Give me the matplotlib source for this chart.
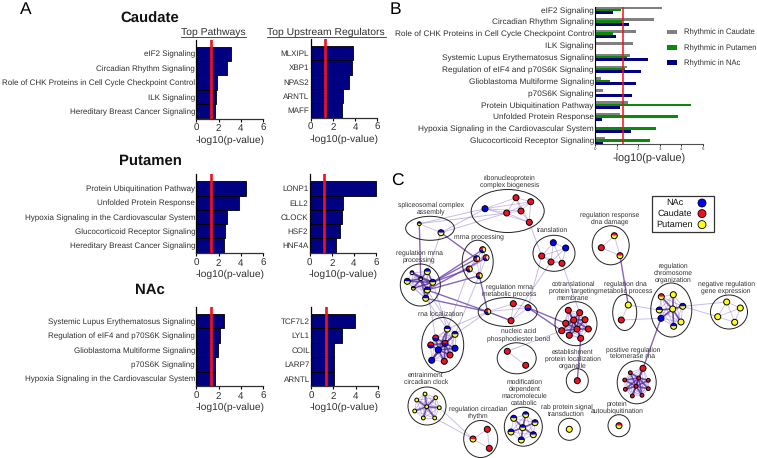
from itertools import combinations
import matplotlib
matplotlib.use('Agg')
from matplotlib import pyplot as plt
from matplotlib.patches import Ellipse, Wedge, Rectangle

plt.rcParams['font.family'] = ['Liberation Sans', 'DejaVu Sans']
plt.rcParams['text.hinting'] = 'no_hinting'

W, H = 757, 458

################## panel A data ##################
caudate_pathways = ['eIF2 Signaling', 'Circadian Rhythm Signaling',
                    'Role of CHK Proteins in Cell Cycle Checkpoint Control',
                    'ILK Signaling', 'Hereditary Breast Cancer Signaling']
caudate_pathway_vals = [3.09, 2.73, 1.89, 1.74, 1.65]
caudate_regs = ['MLXIPL', 'XBP1', 'NPAS2', 'ARNTL', 'MAFF']
caudate_reg_vals = [3.84, 3.75, 3.48, 2.94, 2.85]

putamen_pathways = ['Protein Ubiquitination Pathway', 'Unfolded Protein Response',
                    'Hypoxia Signaling in the Cardiovascular System',
                    'Glucocorticoid Receptor Signaling', 'Hereditary Breast Cancer Signaling']
putamen_pathway_vals = [4.47, 3.81, 2.79, 2.58, 2.49]
putamen_regs = ['LONP1', 'ELL2', 'CLOCK', 'HSF2', 'HNF4A']
putamen_reg_vals = [6.0, 2.97, 2.88, 2.70, 2.37]

nac_pathways = ['Systemic Lupus Erythematosus Signaling', 'Regulation of eIF4 and p70S6K Signaling',
                'Glioblastoma Multiforme Signaling', 'p70S6K Signaling',
                'Hypoxia Signaling in the Cardiovascular System']
nac_pathway_vals = [2.46, 2.10, 1.92, 1.71, 1.65]
nac_regs = ['TCF7L2', 'LYL1', 'COIL', 'LARP7', 'ARNTL']
nac_reg_vals = [3.99, 2.73, 2.04, 2.04, 2.04]

threshold = 1.3

################## panel B data ##################
b_pathways = ['eIF2 Signaling', 'Circadian Rhythm Signaling',
              'Role of CHK Proteins in Cell Cycle Checkpoint Control', 'ILK Signaling',
              'Systemic Lupus Erythematosus Signaling', 'Regulation of eIF4 and p70S6K Signaling',
              'Glioblastoma Multiforme Signaling', 'p70S6K Signaling',
              'Protein Ubiquitination Pathway', 'Unfolded Protein Response',
              'Hypoxia Signaling in the Cardiovascular System', 'Glucocorticoid Receptor Signaling']
b_caudate = [3.08, 2.74, 1.87, 1.73, 1.61, 1.47, 0.26, 0.34, 1.50, 1.16, 0.0, 0.46]
b_putamen = [1.19, 1.25, 0.84, 0.0, 1.46, 1.38, 0.68, 0.0, 4.44, 3.82, 2.80, 2.54]
b_nac = [0.82, 1.55, 0.96, 0.0, 2.45, 2.10, 1.90, 1.72, 1.16, 0.33, 1.64, 0.36]

################## panel C data (layout coordinates of the network) ##################
cluster_x = [430, 507.7, 554, 477.7, 420.3, 507.7, 442.7, 516.7, 427, 480.7, 523.3, 569.3, 619, 577.3,
             576, 624.7, 671.3, 729, 610.7, 636.7]
cluster_y = [228.3, 211, 253.3, 261.7, 285, 312, 345, 358.3, 406, 439, 426.7, 429.3, 425.7, 380.7,
             323.7, 312.5, 310, 312, 245.3, 382.3]
cluster_w = [48.7, 73, 42, 31, 40, 59, 42, 39, 38, 34, 38, 22, 22, 22, 42, 24, 41, 37, 37, 39]
cluster_h = [24, 43, 36, 43, 42, 29, 55, 31, 38, 37, 39, 22, 22, 24, 44, 36, 54, 34, 39, 43]
cluster_sizes = [2, 6, 5, 5, 8, 4, 10, 2, 8, 3, 7, 1, 1, 1, 10, 2, 8, 4, 3, 10]

node_x = [419.3, 441,
          485, 506.7, 516, 530.7, 521, 529.3,
          553.3, 565.7, 541.7, 551, 562,
          482.7, 476.7, 486, 469.3, 479.3,
          412, 427.3, 407.3, 420.7, 432.7, 413.3, 427.3, 425.7,
          487.7, 513.3, 528, 511,
          447.3, 455, 435.7, 430.7, 445, 455, 438.3, 450, 431.7, 444.3,
          507.3, 525.7,
          426.7, 425, 435.7, 416.7, 439.3, 414.7, 423.3, 434.7,
          487.3, 473, 489.3,
          522.7, 513.7, 525.7, 535, 533.3, 521.3, 511,
          569.3, 619, 577.3,
          568.3, 579.7, 565.7, 573.7, 585, 577, 588.3, 561.7, 569.3, 580.7,
          628.3, 621.3,
          661.3, 673.3, 682.7, 659.3, 672.7, 661, 681, 673.7,
          726.7, 740.3, 717.7, 734.7,
          614.3, 601.3, 620,
          643, 630.3, 638.7, 648.3, 624.7, 636, 625.3, 648.3, 632.3, 642]
node_y = [223.7, 232.7,
          208.7, 213, 197.7, 201.7, 211, 222.3,
          242.7, 248, 256, 262, 263.3,
          249.7, 258.7, 257.7, 269, 275.7,
          272.7, 271.7, 281.3, 278.7, 282.3, 288.3, 290, 298.3,
          311.7, 303.7, 307.7, 320.7,
          329, 334.3, 338, 345, 343.3, 348.3, 350, 355, 360.3, 361.3,
          351.3, 365.3,
          406.7, 394, 397.7, 400, 407.7, 411, 418, 418,
          429.3, 439, 448.3,
          427.7, 418.3, 414.7, 422.7, 434.7, 440, 432,
          429.3, 425.7, 380.7,
          310.3, 312.7, 323.3, 320, 319.7, 329, 329, 330.7, 335.3, 338.3,
          305, 320,
          296.7, 294.7, 306.3, 310, 309, 318.3, 322, 326.3,
          302, 308, 316.7, 322.3,
          235.7, 247.7, 255.7,
          368.3, 372.7, 378, 380.3, 380, 386.3, 389.3, 388.7, 396, 395.3]
# first letter is the upper part of the node
node_groups = ['by', 'by',
               'b', 'r', 'r', 'r', 'r', 'r',
               'b', 'b', 'r', 'r', 'r',
               'ryb', 'byr', 'ryb', 'ryb', 'ryb',
               'by', 'by', 'by', 'by', 'by', 'by', 'by', 'by',
               'ryb', 'r', 'rb', 'r',
               'by', 'by', 'rb', 'rb', 'rb', 'b', 'b', 'r', 'b', 'r',
               'r', 'r',
               'y', 'y', 'y', 'y', 'y', 'y', 'y', 'y',
               'r', 'ry', 'r',
               'by', 'by', 'by', 'by', 'by', 'by', 'by',
               'y', 'ry', 'r',
               'r', 'r', 'r', 'r', 'r', 'r', 'r', 'r', 'r', 'r',
               'y', 'r',
               'ry', 'y', 'by', 'by', 'y', 'b', 'y', 'by',
               'y', 'y', 'y', 'y',
               'ry', 'r', 'ry',
               'r', 'r', 'r', 'r', 'r', 'r', 'r', 'r', 'r', 'r']
small_nodes = [0, 18, 21, 23] + list(range(42, 50)) + list(range(91, 100))
hub_nodes = [21, 22, 34, 36, 42, 53, 66, 68, 79, 92, 95]

strong_links = [(0, 21), (1, 14), (14, 22), (16, 22), (15, 24), (13, 22), (17, 24), (25, 26), (24, 26),
                (17, 26), (28, 70), (28, 65), (26, 29), (72, 62), (89, 73), (80, 90)]
light_links = [(0, 2), (1, 2), (0, 3), (1, 3), (1, 19), (7, 10), (10, 28), (11, 29), (12, 64), (16, 30),
               (17, 31), (24, 32), (25, 30), (26, 30), (26, 31), (40, 70), (73, 78), (74, 80), (77, 83),
               (77, 85), (46, 51), (49, 51), (24, 31), (22, 30)]

term_labels = ['spliceosomal complex\nassembly', 'ribonucleoprotein\ncomplex biogenesis', 'translation',
               'mrna processing', 'regulation mrna\nprocessing', 'regulation mrna\nmetabolic process',
               'rna localization', 'nucleic acid\nphosphodiester bond', 'entrainment\ncircadian clock',
               'regulation circadian\nrhythm', 'modification\ndependent\nmacromolecule\ncatabolic',
               'rab protein signal\ntransduction', 'protein\nautoubiquitination',
               'establishment\nprotein localization\norganelle', 'cotranslational\nprotein targeting\nmembrane',
               'regulation dna\nmetabolic process', 'regulation\nchromosome\norganization',
               'negative regulation\ngene expression', 'regulation response\ndna damage',
               'positive regulation\ntelomerase rna']
term_x = [430.7, 509.3, 552.3, 479.3, 419.3, 509, 440.7, 518.7, 426, 478.3, 524.3, 566.7, 617.3, 573, 573,
          625.3, 673, 726, 609.3, 632.7]
term_y = [208.3, 181, 230.3, 236.3, 256.7, 290, 314, 335, 379, 412.7, 392.7, 410.3, 407.3, 359, 291,
          287.3, 272.7, 287.7, 218.7, 353]

legend_groups = ['NAc', 'Caudate', 'Putamen']

################## helpers ##################
NAVY = '#000080'
TXT = '#303030'
node_colors = {'b': '#0000ff', 'r': '#f01020', 'y': '#ffff10'}


def px_axes(fig, x0, x1, y0, y1):
    # axes from pixel edges measured on the picture
    return fig.add_axes([x0 / W, 1 - y1 / H, (x1 - x0) / W, (y1 - y0) / H])


def enrich_panel(fig, names, vals, x0, x1, y0, y1, bar_top):
    ax = px_axes(fig, x0, x1, y0, y1)
    row = (y1 - bar_top) / 5
    ax.barh(range(5), vals, height=1, color=NAVY, edgecolor='black', linewidth=0.6, clip_on=False)
    ax.axvline(threshold, color='#f5101c', lw=1.9, zorder=5)
    ax.set_xlim(0, 6)
    ax.set_ylim(4.5, -0.5 - (bar_top - y0) / row)
    ax.set_xticks([0, 2, 4, 6])
    ax.set_yticks(range(5))
    ax.set_yticklabels(names, fontsize=5.75, color=TXT)
    ax.tick_params(axis='y', length=0, pad=1)
    ax.tick_params(axis='x', length=2.5, width=0.8, labelsize=7, pad=1.5, labelcolor=TXT)
    ax.set_xlabel('-log10(p-value)', fontsize=7.4, labelpad=1.5, color=TXT)
    for s in ['top', 'right']:
        ax.spines[s].set_visible(False)
    ax.spines['left'].set_linewidth(0.9)
    ax.spines['bottom'].set_linewidth(0.9)
    ax.spines['bottom'].set_color('#303030')
    return ax


################## figure ##################
fig = plt.figure(figsize=(W / 100, H / 100), dpi=100)

enrich_panel(fig, caudate_pathways, caudate_pathway_vals, 196.5, 263, 40, 118.5, 46.7)
enrich_panel(fig, caudate_regs, caudate_reg_vals, 310.7, 377.3, 39, 117.5, 46)
enrich_panel(fig, putamen_pathways, putamen_pathway_vals, 196.5, 263, 174, 252.7, 181.3)
enrich_panel(fig, putamen_regs, putamen_reg_vals, 309.7, 376, 174, 252.7, 181.3)
enrich_panel(fig, nac_pathways, nac_pathway_vals, 196.5, 263, 306.7, 386, 314)
enrich_panel(fig, nac_regs, nac_reg_vals, 311.3, 377.7, 306.7, 386, 314)

# panel B
ax_b = px_axes(fig, 595.3, 703, 6.7, 144)
ypos = list(range(len(b_pathways)))
ax_b.barh([y - 0.2 for y in ypos], b_caudate, height=0.24, color='#808080', label='Rhythmic in Caudate')
ax_b.barh(ypos, b_putamen, height=0.24, color='#0a8a0a', label='Rhythmic in Putamen')
ax_b.barh([y + 0.2 for y in ypos], b_nac, height=0.24, color=NAVY, label='Rhythmic in NAc')
ax_b.axvline(threshold, color='#f5101c', lw=1.1, zorder=5)
ax_b.set_xlim(0, 5)
ax_b.set_ylim(11.28, -0.28)
ax_b.set_yticks(ypos)
ax_b.set_yticklabels(b_pathways, fontsize=5.95, color=TXT)
ax_b.set_xticks(range(6))
ax_b.tick_params(axis='y', length=0, pad=1)
ax_b.tick_params(axis='x', length=1.5, width=0.6, labelsize=3.2, pad=1, labelcolor=TXT)
ax_b.set_xlabel('-log10(p-value)', fontsize=7.8, labelpad=2, color=TXT)
for s in ['top', 'right']:
    ax_b.spines[s].set_visible(False)
ax_b.spines['left'].set_linewidth(0.8)
ax_b.spines['bottom'].set_linewidth(0.8)
ax_b.spines['bottom'].set_color('#505050')
leg = ax_b.legend(loc='upper left', bbox_to_anchor=(667 / W, 1 - 29 / H), bbox_transform=fig.transFigure,
                  frameon=False, fontsize=5.5, handlelength=1.3, handleheight=0.55, labelspacing=1.02,
                  handletextpad=0.95, borderpad=0, borderaxespad=0)
for t in leg.get_texts():
    t.set_color(TXT)

# overlay in picture pixels, holds the network and the free text
ax = fig.add_axes([0, 0, 1, 1], zorder=10)
ax.set_xlim(0, W)
ax.set_ylim(H, 0)
ax.axis('off')

ax.text(26, 9.3, 'A', fontsize=12.5, ha='center', va='center', color='black')
ax.text(395.7, 9.3, 'B', fontsize=12.5, ha='center', va='center', color='black')
ax.text(397.7, 181.7, 'C', fontsize=12.5, ha='center', va='center', color='black')
ax.text(149.7, 19, 'Caudate', fontsize=10.7, fontweight='bold', ha='center', va='center', color='#111111')
ax.text(150, 160.7, 'Putamen', fontsize=10.7, fontweight='bold', ha='center', va='center', color='#111111')
ax.text(150, 290, 'NAc', fontsize=10.7, fontweight='bold', ha='center', va='center', color='#111111')

ax.text(213.5, 32, 'Top Pathways', fontsize=7.5, ha='center', va='center', color=TXT)
ax.plot([181, 246], [37, 37], color=TXT, lw=0.6)
ax.text(326.3, 32, 'Top Upstream Regulators', fontsize=7.5, ha='center', va='center', color=TXT)
ax.plot([267, 386], [37, 37], color=TXT, lw=0.6)

# network edges, the ones through a hub node are darker
start = 0
for size in cluster_sizes:
    for i, j in combinations(range(start, start + size), 2):
        if i in hub_nodes or j in hub_nodes:
            ax.plot([node_x[i], node_x[j]], [node_y[i], node_y[j]], color='#54289c', lw=1.2, alpha=0.8, zorder=2)
        else:
            ax.plot([node_x[i], node_x[j]], [node_y[i], node_y[j]], color='#7a55bc', lw=0.6, alpha=0.4, zorder=2)
    start += size
for i, j in strong_links:
    ax.plot([node_x[i], node_x[j]], [node_y[i], node_y[j]], color='#6a3fb0', lw=1.0, alpha=0.8, zorder=2)
for i, j in light_links:
    ax.plot([node_x[i], node_x[j]], [node_y[i], node_y[j]], color='#8a6cc8', lw=0.7, alpha=0.45, zorder=2)

# cluster outlines
for cx, cy, w, h in zip(cluster_x, cluster_y, cluster_w, cluster_h):
    ax.add_patch(Ellipse((cx, cy), w, h, fill=False, ec='#222222', lw=0.7, zorder=3))

# nodes as small pies
for n, (x, y, groups) in enumerate(zip(node_x, node_y, node_groups)):
    r = 1.9 if n in small_nodes else 3.0
    step = 360 / len(groups)
    for k, g in enumerate(groups):
        ax.add_patch(Wedge((x, y), r, 180 + k * step, 180 + (k + 1) * step, fc=node_colors[g], ec='none', zorder=4))
    ax.add_patch(Ellipse((x, y), 2 * r, 2 * r, fill=False, ec='black', lw=0.7, zorder=5))

for label, x, y in zip(term_labels, term_x, term_y):
    ax.text(x, y, label, fontsize=4.9, ha='center', va='center', color=TXT, linespacing=1.08, zorder=6)

# network key
ax.add_patch(Rectangle((652.3, 196), 61.7, 36.3, fill=True, fc='white', ec='#333333', lw=0.9, zorder=6))
for name, y, g in zip(legend_groups, [202.7, 213.3, 224.3], ['b', 'r', 'y']):
    ax.text(674.7, y, name, fontsize=6.6, ha='center', va='center', color='#111111', zorder=7)
    ax.add_patch(Ellipse((702, y + 0.3), 8, 8, fc=node_colors[g], ec='black', lw=0.6, zorder=7))

fig.savefig('out.png', dpi=100)
